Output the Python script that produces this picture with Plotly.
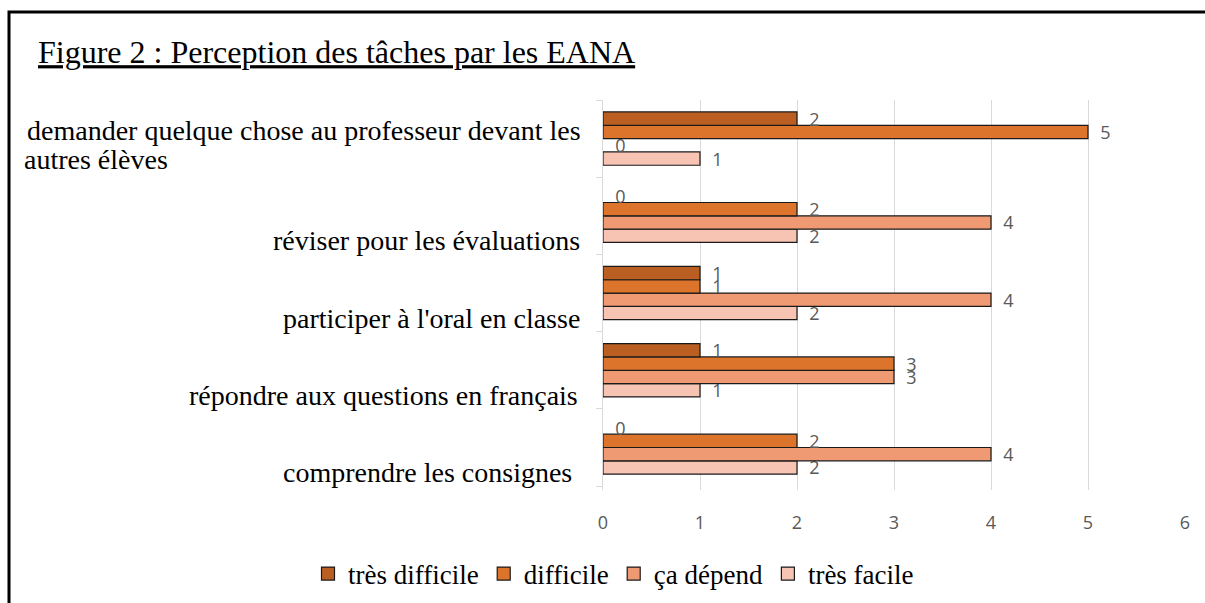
import plotly.graph_objects as go

categories = [
    "comprendre les consignes",
    "répondre aux questions en français",
    "participer à l'oral en classe",
    "réviser pour les évaluations",
    "demander quelque chose au professeur devant les autres élèves",
]
# displayed label lines for each category (the long one wraps on two lines)
cat_lines = [
    ["comprendre les consignes"],
    ["répondre aux questions en français"],
    ["participer à l'oral en classe"],
    ["réviser pour les évaluations"],
    ["demander quelque chose au professeur devant les", "autres élèves"],
]
series_names = ["très difficile", "difficile", "ça dépend", "très facile"]
tres_difficile = [0, 1, 1, 0, 2]
difficile = [2, 3, 1, 2, 5]
ca_depend = [4, 3, 4, 4, 0]
tres_facile = [2, 1, 2, 2, 1]
x_ticks = [0, 1, 2, 3, 4, 5, 6]

colors = ["#BA5E22", "#DD742C", "#F09A73", "#F7C4B4"]
values = [tres_difficile, difficile, ca_depend, tres_facile]
outline = "#1a1a1a"

fig = go.Figure()
# add in reverse so that "très difficile" sits at the top of each group
for name, vals, col in reversed(list(zip(series_names, values, colors))):
    fig.add_trace(go.Bar(
        y=categories, x=vals, name=name, orientation="h", showlegend=False,
        legendgroup=name,
        marker=dict(color=col, line=dict(color=outline,
                                         width=[1.2 if v > 0 else 0 for v in vals])),
        text=vals, texttemplate="\u00a0\u00a0%{x}", textposition="outside",
        constraintext="none",
        textfont=dict(family="Open Sans, Liberation Sans, sans-serif", size=18, color="#595959"),
        cliponaxis=False,
    ))
# legend swatches (square markers, in reading order)
for name, col in zip(series_names, colors):
    fig.add_trace(go.Scatter(
        x=[None], y=[None], mode="markers", name=name, legendgroup=name,
        marker=dict(symbol="square", size=13, color=col, line=dict(color=outline, width=1.2)),
    ))

W, H = 1205, 603
L, R, T, B = 603, 20, 100, 113
pw, ph = W - L - R, H - T - B

def px(x):
    return (x - L) / pw

def py(y):
    return (H - B - y) / ph

serif = "Liberation Serif, Times New Roman, serif"
annotations = []
for cat, lines in zip(categories, cat_lines):
    if len(lines) == 1:
        rx = 574 if cat.startswith("comprendre") else (580 if cat.startswith("répondre") else 582)
        annotations.append(dict(
            x=px(rx), xref="paper", y=cat, yref="y", yshift=-25,
            text=lines[0], showarrow=False, xanchor="right", yanchor="middle",
            font=dict(family=serif, size=28, color="#000000"),
        ))
    else:
        annotations.append(dict(
            x=px(583), xref="paper", y=cat, yref="y", yshift=8,
            text=lines[0], showarrow=False, xanchor="right", yanchor="middle",
            font=dict(family=serif, size=28, color="#000000"),
        ))
        annotations.append(dict(
            x=px(22), xref="paper", y=cat, yref="y", yshift=-21,
            text=lines[1], showarrow=False, xanchor="left", yanchor="middle",
            font=dict(family=serif, size=28, color="#000000"),
        ))

fig.update_layout(
    width=W, height=H,
    margin=dict(l=L, r=R, t=T, b=B, autoexpand=False),
    paper_bgcolor="white", plot_bgcolor="white",
    barmode="group", bargap=0.31, bargroupgap=0,
    title=dict(
        text="<u>Figure 2 : Perception des tâches par les EANA</u>",
        x=38 / W, xanchor="left", y=1 - 52 / H, yanchor="middle",
        font=dict(family=serif, size=32, color="#000000"),
    ),
    xaxis=dict(
        range=[0, 6], tickvals=x_ticks, showgrid=True, gridcolor="#D9D9D9", gridwidth=1,
        zeroline=False, showline=False,
        tickfont=dict(family="Open Sans, Liberation Sans, sans-serif", size=18, color="#595959"),
        ticklabelstandoff=20,
    ),
    yaxis=dict(
        categoryorder="array", categoryarray=categories,
        showticklabels=False, showgrid=False, zeroline=False,
        showline=True, linecolor="#D9D9D9", linewidth=1,
        ticks="outside", tickson="boundaries", ticklen=6, tickcolor="#D9D9D9",
    ),
    legend=dict(
        orientation="h", traceorder="normal",
        x=px(308), xanchor="left", y=py(574), yanchor="middle",
        font=dict(family=serif, size=27, color="#000000"),
        itemwidth=30, tracegroupgap=0,
    ),
    annotations=annotations,
    shapes=[dict(
        type="rect", xref="paper", yref="paper",
        x0=px(9), x1=px(1220), y0=py(12), y1=py(620),
        line=dict(color="#000000", width=3), fillcolor="rgba(0,0,0,0)",
    )],
)

fig.write_html("out.html", config={"displayModeBar": False},
               post_script="document.body.style.margin='0';")
